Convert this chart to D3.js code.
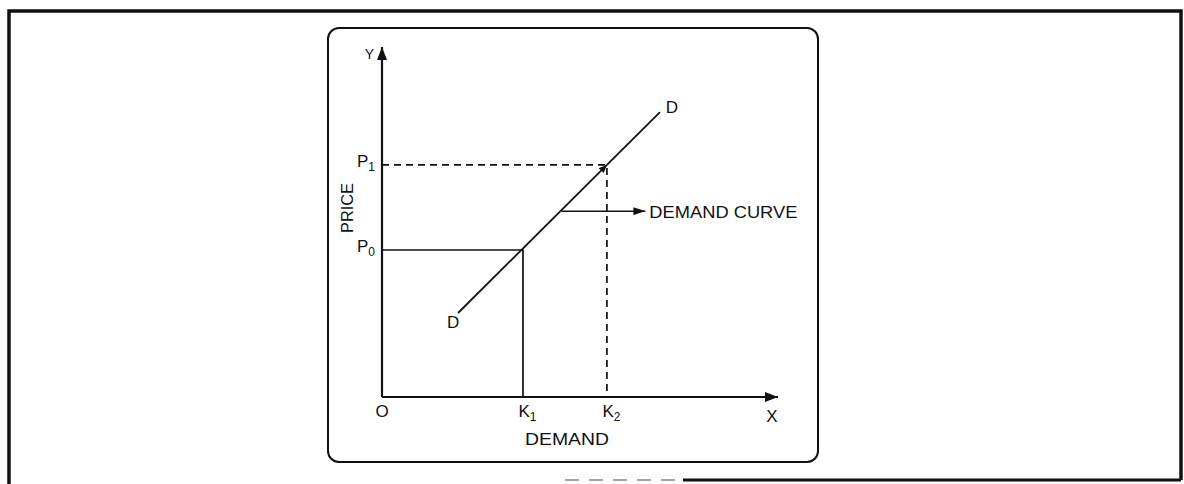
<!DOCTYPE html>
<html>
<head>
<meta charset="utf-8">
<script src="https://cdn.jsdelivr.net/npm/d3@7"></script>
<style>
  html, body { margin: 0; padding: 0; background: #fff; }
  svg { display: block; }
  text { font-family: "Liberation Sans", "DejaVu Sans", sans-serif; fill: #111; }
</style>
</head>
<body>
<svg id="chart"></svg>
<script>
// Values (axes run 0..100 in both directions)
const xTicks = [0, 35.6, 56.8];        // O, K1, K2 on the demand axis
const xTickNames = ["O", "K", "K"];
const xTickSubs = ["", "1", "2"];
const yTicks = [42, 66.3];             // P0, P1 on the price axis
const yTickNames = ["P", "P"];
const yTickSubs = ["0", "1"];
const demandQty = [19.2, 70.2];        // ends of the D-D line
const demandPrice = [24, 81.4];
const curveNote = [45.3, 53.1];        // point the "DEMAND CURVE" arrow leaves from

const width = 1184, height = 484;
const ink = "#111";

let svg = d3.select("#chart").attr("width", width).attr("height", height);

let defs = svg.append("defs");
function arrowHead(id, len, half) {
  defs.append("marker")
    .attr("id", id)
    .attr("viewBox", `0 ${-half} ${len} ${half * 2}`)
    .attr("refX", len).attr("refY", 0)
    .attr("markerUnits", "userSpaceOnUse")
    .attr("markerWidth", len).attr("markerHeight", half * 2)
    .attr("orient", "auto")
    .append("path")
    .attr("d", `M0,${-half}L${len},0L0,${half}Z`)
    .attr("fill", ink);
}
arrowHead("axisArrow", 13, 5);
arrowHead("noteArrow", 12, 4);
arrowHead("smallArrow", 8, 3.5);

// outer page frame (bottom edge only partly printed)
let frame = svg.append("g").attr("stroke", ink).attr("fill", "none");
frame.append("path").attr("d", "M9,484V11H1181V480").attr("stroke-width", 3.5);
frame.append("line").attr("x1", 565).attr("x2", 683).attr("y1", 480).attr("y2", 480)
  .attr("stroke", "#888").attr("stroke-width", 1.5).attr("stroke-dasharray", "14,10");
frame.append("line").attr("x1", 683).attr("x2", 1181).attr("y1", 480).attr("y2", 480)
  .attr("stroke-width", 3);

// rounded figure box
svg.append("rect")
  .attr("x", 328).attr("y", 28).attr("width", 490).attr("height", 434)
  .attr("rx", 11).attr("ry", 11)
  .attr("fill", "none").attr("stroke", ink).attr("stroke-width", 2);

let x = d3.scaleLinear().domain([0, 100]).range([382, 778]);
let y = d3.scaleLinear().domain([0, 100]).range([397, 47]);

let g = svg.append("g");

// guide lines to the axes
g.append("path")
  .attr("d", `M${x(0)},${y(yTicks[0])}H${x(xTicks[1])}V${y(0)}`)
  .attr("fill", "none").attr("stroke", ink).attr("stroke-width", 1.7);
g.append("path")
  .attr("d", `M${x(0)},${y(yTicks[1])}H${x(xTicks[2])}V${y(0)}`)
  .attr("fill", "none").attr("stroke", ink).attr("stroke-width", 1.7)
  .attr("stroke-dasharray", "7,5");

// axes with arrow heads
g.append("line")
  .attr("x1", x(0)).attr("y1", y(0)).attr("x2", x(100)).attr("y2", y(0))
  .attr("stroke", ink).attr("stroke-width", 2.2).attr("marker-end", "url(#axisArrow)");
g.append("line")
  .attr("x1", x(0)).attr("y1", y(0)).attr("x2", x(0)).attr("y2", y(100))
  .attr("stroke", ink).attr("stroke-width", 2.2).attr("marker-end", "url(#axisArrow)");

// demand line D-D, with a small head where it meets P1/K2
let line = d3.line().x(d => x(d[0])).y(d => y(d[1]));
g.append("path")
  .attr("d", line([[demandQty[0], demandPrice[0]], [xTicks[2], yTicks[1]]]))
  .attr("fill", "none").attr("stroke", ink).attr("stroke-width", 1.8)
  .attr("marker-end", "url(#smallArrow)");
g.append("path")
  .attr("d", line([[xTicks[2], yTicks[1]], [demandQty[1], demandPrice[1]]]))
  .attr("fill", "none").attr("stroke", ink).attr("stroke-width", 1.8);

// "DEMAND CURVE" pointer
g.append("line")
  .attr("x1", x(curveNote[0])).attr("y1", y(curveNote[1]))
  .attr("x2", x(curveNote[0]) + 84).attr("y2", y(curveNote[1]))
  .attr("stroke", ink).attr("stroke-width", 1.5).attr("marker-end", "url(#noteArrow)");
g.append("text")
  .attr("x", x(curveNote[0]) + 88).attr("y", y(curveNote[1]) + 7)
  .attr("font-size", 17).attr("textLength", 148).attr("lengthAdjust", "spacingAndGlyphs")
  .text("DEMAND CURVE");

// tick labels through the axes, subscripts added afterwards
function subLabels(sel, names, subs) {
  sel.selectAll(".tick text").each(function (d, i) {
    let t = d3.select(this).text("").attr("font-size", 17).attr("fill", ink);
    t.append("tspan").text(names[i]);
    if (subs[i]) t.append("tspan").attr("font-size", 12).attr("dy", "0.35em").text(subs[i]);
  });
}

let xAxis = g.append("g")
  .attr("transform", `translate(0,${y(0)})`)
  .call(d3.axisBottom(x).tickValues(xTicks).tickSize(0).tickPadding(8));
xAxis.select(".domain").remove();
subLabels(xAxis, xTickNames, xTickSubs);
xAxis.selectAll(".tick text").attr("text-anchor", "start").attr("dx", (d, i) => i === 0 ? -7 : -5);

let yAxis = g.append("g")
  .attr("transform", `translate(${x(0)},0)`)
  .call(d3.axisLeft(y).tickValues(yTicks).tickSize(0).tickPadding(7));
yAxis.select(".domain").remove();
subLabels(yAxis, yTickNames, yTickSubs);
yAxis.selectAll(".tick text").attr("dy", "0.1em");

// axis names
g.append("text").attr("x", x(0) - 8).attr("y", y(100) + 12)
  .attr("text-anchor", "end").attr("font-size", 14).text("Y");
g.append("text").attr("x", x(100) - 6).attr("y", y(0) + 25)
  .attr("text-anchor", "middle").attr("font-size", 17).text("X");
g.append("text").attr("x", 567).attr("y", 445)
  .attr("text-anchor", "middle").attr("font-size", 17)
  .attr("textLength", 84).attr("lengthAdjust", "spacingAndGlyphs").text("DEMAND");
g.append("text")
  .attr("transform", `translate(353,208) rotate(-90)`)
  .attr("text-anchor", "middle").attr("font-size", 16)
  .attr("textLength", 50).attr("lengthAdjust", "spacingAndGlyphs").text("PRICE");

// D labels at both ends of the line
g.append("text").attr("x", x(demandQty[0]) - 5).attr("y", y(demandPrice[0]) + 15)
  .attr("text-anchor", "middle").attr("font-size", 17).text("D");
g.append("text").attr("x", x(demandQty[1]) + 12).attr("y", y(demandPrice[1]) + 1)
  .attr("text-anchor", "middle").attr("font-size", 17).text("D");
</script>
</body>
</html>
